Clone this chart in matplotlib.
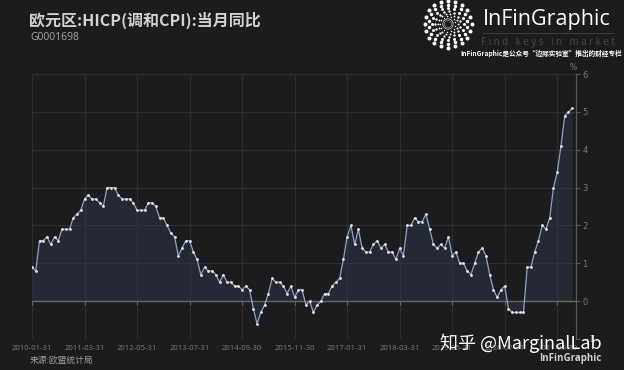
import numpy as np
import pandas as pd
import matplotlib
matplotlib.use("Agg")
import matplotlib.pyplot as plt

# ---------------- data ----------------
start_month = "2010-01-31"
hicp_yoy = [
    0.9, 0.8, 1.6, 1.6, 1.7, 1.5, 1.7, 1.6, 1.9, 1.9, 1.9, 2.2,   # 2010
    2.3, 2.4, 2.7, 2.8, 2.7, 2.7, 2.6, 2.5, 3.0, 3.0, 3.0, 2.8,   # 2011
    2.7, 2.7, 2.7, 2.6, 2.4, 2.4, 2.4, 2.6, 2.6, 2.5, 2.2, 2.2,   # 2012
    2.0, 1.8, 1.7, 1.2, 1.4, 1.6, 1.6, 1.3, 1.1, 0.7, 0.9, 0.8,   # 2013
    0.8, 0.7, 0.5, 0.7, 0.5, 0.5, 0.4, 0.4, 0.3, 0.4, 0.3, -0.2,  # 2014
    -0.6, -0.3, -0.1, 0.2, 0.6, 0.5, 0.5, 0.4, 0.2, 0.4, 0.1, 0.3,  # 2015
    0.3, -0.1, 0.0, -0.3, -0.1, 0.0, 0.2, 0.2, 0.4, 0.5, 0.6, 1.1,  # 2016
    1.7, 2.0, 1.5, 1.9, 1.4, 1.3, 1.3, 1.5, 1.6, 1.4, 1.5, 1.3,   # 2017
    1.3, 1.1, 1.4, 1.2, 2.0, 2.0, 2.2, 2.1, 2.1, 2.3, 1.9, 1.5,   # 2018
    1.4, 1.5, 1.4, 1.7, 1.2, 1.3, 1.0, 1.0, 0.8, 0.7, 1.0, 1.3,   # 2019
    1.4, 1.2, 0.7, 0.3, 0.1, 0.3, 0.4, -0.2, -0.3, -0.3, -0.3, -0.3,  # 2020
    0.9, 0.9, 1.3, 1.6, 2.0, 1.9, 2.2, 3.0, 3.4, 4.1, 4.9, 5.0,   # 2021
    5.1,                                                          # 2022
]
months = pd.date_range(start_month, periods=len(hicp_yoy), freq="ME")
tick_step = 14
y_ticks = [-1, 0, 1, 2, 3, 4, 5, 6]

title = "欧元区:HICP(调和CPI):当月同比"
code = "G0001698"
source = "来源:欧盟统计局"
unit = "%"

# ---------------- style ----------------
BG = "#1c1c1e"
GRID = "#2e2e31"
AXIS = "#5a5a5a"
LABEL = "#7c7c7c"
LINE = "#8ea4c8"
CJK = ["Noto Sans CJK SC", "DejaVu Sans"]

W, H = 624, 370
fig = plt.figure(figsize=(W / 100, H / 100), dpi=100, facecolor=BG)

x = np.arange(len(hicp_yoy))
tick_pos = x[::tick_step]
tick_labels = [d.strftime("%Y-%m-%d") for d in months[::tick_step]]

ax = fig.add_axes([32 / W, 31 / H, 544 / W, 265 / H])
ax.set_facecolor(BG)
ax.set_xlim(0, len(hicp_yoy))
ax.set_ylim(y_ticks[0], y_ticks[-1])

ax.fill_between(x, hicp_yoy, 0, color="#2f3b4d", alpha=0.45, lw=0, zorder=2)
ax.plot(x, hicp_yoy, color=LINE, lw=0.9, zorder=3)
ax.plot(x, hicp_yoy, ls="none", marker="o", ms=2.0, mfc="#e6e8ee", mec="none", zorder=4)

ax.set_xticks(tick_pos)
ax.set_yticks(y_ticks)
ax.grid(True, color=GRID, lw=0.9, zorder=0)
ax.set_axisbelow(True)

for s in ["top", "left"]:
    ax.spines[s].set_visible(False)
ax.spines["right"].set_color(AXIS)
ax.spines["right"].set_linewidth(0.9)
ax.spines["bottom"].set_position(("data", 0))
ax.spines["bottom"].set_color("#666666")
ax.spines["bottom"].set_linewidth(1.0)
ax.spines["bottom"].set_zorder(2.5)

ax.tick_params(axis="x", direction="out", length=3, color="#666666",
               labelbottom=False)
ax.yaxis.tick_right()
ax.tick_params(axis="y", direction="out", length=3, color=AXIS, width=0.8,
               labelsize=6, labelcolor=LABEL, pad=1.5, left=False)

secax = ax.secondary_xaxis("bottom")
secax.set_xticks(tick_pos, labels=tick_labels)
secax.spines["bottom"].set_visible(False)
secax.tick_params(length=0, pad=4, labelsize=5.6, labelcolor=LABEL)
for t in secax.get_xticklabels():
    t.set_family(["Open Sans", "DejaVu Sans"])

# ---------------- overlay: texts & logo ----------------
ov = fig.add_axes([0, 0, 1, 1], zorder=10)
ov.set_xlim(0, W)
ov.set_ylim(H, 0)
ov.axis("off")
ov.patch.set_alpha(0)

ov.text(29, 20, title, fontsize=11.5, fontweight="bold", color="#d2d2d2",
        family=CJK, va="center", ha="left")
ov.text(30, 38, code, fontsize=7.5, color="#a8a8a8",
        family=["Open Sans", "DejaVu Sans"], va="center", ha="left")
ov.text(573, 67, unit, fontsize=5.5, color=LABEL, va="center", ha="center")
ov.text(30, 360, source, fontsize=6.3, color="#9c9c9c", family=CJK,
        va="center", ha="left")
ov.text(602, 359, "InFinGraphic", fontsize=7, fontweight="bold",
        color="#cfcfcf", family=["Open Sans", "DejaVu Sans"],
        va="center", ha="right")
ov.text(440, 343, "知乎 @MarginalLab", fontsize=13, color="#ffffff",
        family=CJK, va="center", ha="left")

# logo: concentric dotted rings
cx, cy = 448, 24
rings = [(23.5, 4.0, 20), (19.5, 3.5, 18), (15.8, 3.0, 16),
         (12.6, 2.4, 15), (9.9, 1.9, 14), (7.7, 1.5, 13)]
for k, (r, d, n) in enumerate(rings):
    ang = np.linspace(0, 2 * np.pi, n, endpoint=False) + (k % 2) * np.pi / n
    ov.scatter(cx + r * np.cos(ang), cy + r * np.sin(ang),
               s=(d * 0.72) ** 2, color="white", lw=0)
ov.add_patch(plt.Circle((cx, cy), 5.2, fill=False, ec="#dddddd", lw=0.5))
ov.add_patch(plt.Circle((cx, cy), 3.6, fill=False, ec="#bbbbbb", lw=0.4))

ov.text(483, 20, "InFinGraphic", fontsize=15.5, color="white",
        family=["Open Sans", "DejaVu Sans"], va="center", ha="left")
ov.plot([483, 613], [33, 33], color="#3c3c3c", lw=0.8)
ov.text(548, 43, "F i n d   k e y s   i n   m a r k e t", fontsize=7,
        color="#4c4c4c", family=["Open Sans", "DejaVu Sans"],
        va="center", ha="center")
ov.text(622, 53, "InFinGraphic是公众号“边际实验室”推出的财经专栏",
        fontsize=4.8, fontweight="bold", color="white", family=CJK,
        va="center", ha="right")

fig.savefig("out.png", dpi=100, facecolor=BG)
